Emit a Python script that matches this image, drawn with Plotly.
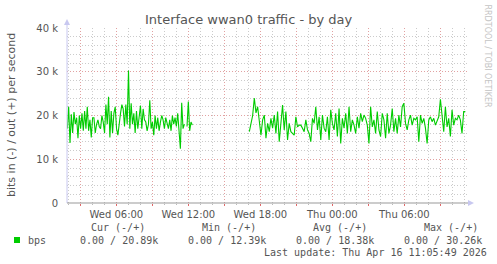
import pandas as pd
import plotly.graph_objects as go

# ---------------- data (bits per second, in k) ----------------
seg1_start, seg1_end = "2026-04-15 01:55", "2026-04-15 12:20"
seg1_k = [
    17.0, 22.0, 13.7, 20.3, 16.0, 20.8, 18.0, 19.5, 14.8, 20.0,
    17.0, 20.5, 16.5, 21.0, 17.0, 22.0, 16.5, 19.0, 15.0, 19.5,
    19.5, 16.0, 18.0, 19.0, 17.5, 17.0, 20.0, 18.5, 16.0, 22.5,
    18.0, 24.3, 15.0, 21.0, 16.0, 20.5, 22.0, 17.0, 15.5, 19.0,
    20.5, 22.5, 21.5, 17.5, 22.5, 18.0, 30.26, 17.0, 22.8, 18.0,
    20.5, 16.0, 21.0, 17.0, 20.0, 22.3, 17.0, 21.5, 19.0, 18.5,
    16.5, 18.0, 23.5, 17.0, 18.5, 15.5, 20.0, 17.0, 19.5, 16.5,
    18.5, 20.0, 19.0, 17.0, 19.5, 18.0, 17.0, 19.0, 16.5, 20.0,
    18.0, 19.5, 17.5, 20.5, 16.0, 12.39, 22.9, 17.0, 18.0, None,
    17.5, 23.2, 16.5, 18.5, 17.8,
]
seg2_start, seg2_end = "2026-04-15 17:05", "2026-04-16 11:05"
seg2_k = [
    16.3, 17.8, 20.0, 24.0, 20.6, 22.0, 18.2, 15.5, 19.0, 20.1,
    14.8, 18.2, 16.3, 19.35, 17.1, 20.1, 15.9, 20.9, 14.0, 19.0,
    22.4, 16.7, 20.9, 14.4, 18.2, 16.3, 15.9, 15.5, 19.7, 17.4,
    17.8, 17.8, 17.1, 16.3, 19.0, 16.7, 15.9, 14.0, 19.35, 18.2,
    22.0, 16.7, 19.7, 14.4, 20.1, 17.1, 16.3, 19.7, 14.4, 21.3,
    18.2, 16.7, 20.5, 15.2, 21.6, 13.6, 19.35, 17.1, 20.5, 15.9,
    22.0, 16.3, 19.0, 17.8, 15.9, 19.7, 17.1, 20.5, 18.6, 20.1,
    19.35, 17.8, 13.6, 22.0, 17.4, 19.0, 15.9, 20.9, 16.7, 15.2,
    20.5, 19.0, 14.8, 20.5, 15.9, 17.8, 21.6, 16.3, 19.35, 15.9,
    20.1, 17.4, 22.0, 22.8, 18.2, 16.7, 19.0, 20.1, 17.8, 19.35,
    19.0, 19.7, 14.0, 20.1, 18.2, 19.35, 17.1, 13.6, 19.0, 19.7,
    18.6, 19.35, 17.8, 18.6, 19.7, 23.7, 19.0, 16.3, 22.0, 17.4,
    19.35, 15.2, 21.3, 17.8, 19.35, 19.0, 20.1, 19.0, 15.9, 20.9,
    20.89,
]

x_range = ["2026-04-15 01:53:20", "2026-04-16 11:13:20"]
grid_ticks = ["2026-04-15 03:00", "2026-04-15 06:00", "2026-04-15 09:00",
              "2026-04-15 12:00", "2026-04-15 15:00", "2026-04-15 18:00",
              "2026-04-15 21:00", "2026-04-16 00:00", "2026-04-16 03:00",
              "2026-04-16 06:00", "2026-04-16 09:00"]
grid_labels = ["", "Wed 06:00", "", "Wed 12:00", "", "Wed 18:00",
               "", "Thu 00:00", "", "Thu 06:00", ""]
y_ticks = [0, 10000, 20000, 30000, 40000]
y_labels = ["0", "10 k", "20 k", "30 k", "40 k"]

title = "Interface wwan0 traffic - by day"
y_title = "bits in (-) / out (+) per second"
series_name = "bps"
stat_headers = ["Cur (-/+)", "Min (-/+)", "Avg (-/+)", "Max (-/+)"]
stat_values = ["0.00 / 20.89k", "0.00 / 12.39k", "0.00 / 18.38k", "0.00 / 30.26k"]
last_update = "Last update: Thu Apr 16 11:05:49 2026"
watermark = "RRDTOOL / TOBI OETIKER"

# ---------------- build ----------------
t1 = list(pd.date_range(seg1_start, seg1_end, periods=len(seg1_k)))
t2 = list(pd.date_range(seg2_start, seg2_end, periods=len(seg2_k)))
xs = t1 + [None] + t2
ys = [None if v is None else v * 1000 for v in seg1_k] + [None] + [v * 1000 for v in seg2_k]

W, H = 497, 264
L, R, T, B = 67, 30, 28, 61
PW, PH = W - L - R, H - T - B


def px(x):
    return (x - L) / PW


def py(y):
    return (H - B - y) / PH


GREEN = "#00cc00"
TEXT = "#555555"
MAJOR = "rgba(230,150,150,0.8)"
MINOR = "rgba(190,190,190,0.8)"
DOTS = "1px,2px"

fig = go.Figure()
fig.add_trace(go.Scatter(x=xs, y=ys, mode="lines", connectgaps=False,
                         line=dict(color=GREEN, width=1.1), hoverinfo="skip",
                         showlegend=False))

fig.update_layout(
    width=W, height=H, margin=dict(l=L, r=R, t=T, b=B),
    paper_bgcolor="white", plot_bgcolor="white",
    font=dict(family="DejaVu Sans", size=10, color=TEXT),
    showlegend=False,
    xaxis=dict(type="date", range=x_range, tickmode="array",
               tickvals=grid_ticks, ticktext=grid_labels,
               showgrid=True, gridcolor=MAJOR, griddash=DOTS, gridwidth=1,
               ticks="outside", ticklen=2, tickcolor="rgba(225,90,90,0.9)",
               tickfont=dict(size=10, color=TEXT), zeroline=False,
               showline=False,
               minor=dict(tickmode="linear", tick0="2026-04-15 00:00",
                          dtick=3600000, showgrid=True, gridcolor=MINOR,
                          griddash=DOTS, gridwidth=1, ticks="outside",
                          ticklen=1, tickcolor="#bbbbbb")),
    yaxis=dict(range=[0, 40000], tickmode="array", tickvals=y_ticks,
               ticktext=y_labels, showgrid=True, gridcolor=MAJOR,
               griddash=DOTS, gridwidth=1, zeroline=False, showline=False,
               ticks="", ticklabelstandoff=8,
               tickfont=dict(size=10, color=TEXT),
               minor=dict(tickmode="linear", tick0=0, dtick=2000,
                          showgrid=True, gridcolor=MINOR, griddash=DOTS,
                          gridwidth=1)),
)

shapes = [
    # axes
    dict(type="line", xref="paper", yref="paper", x0=px(67), x1=px(67),
         y0=py(203), y1=py(24), line=dict(color="#c8c8f0", width=1)),
    dict(type="line", xref="paper", yref="paper", x0=px(67), x1=px(468),
         y0=py(203), y1=py(203), line=dict(color="#999999", width=1)),
    dict(type="path", xref="paper", yref="paper",
         path=f"M {px(64)} {py(25)} L {px(70)} {py(25)} L {px(67)} {py(19)} Z",
         fillcolor="#c8c8f0", line=dict(width=0)),
    dict(type="path", xref="paper", yref="paper",
         path=f"M {px(468)} {py(200)} L {px(468)} {py(206)} L {px(474)} {py(203)} Z",
         fillcolor="#c8c8f0", line=dict(width=0)),
    # legend swatch
    dict(type="rect", xref="paper", yref="paper", x0=px(14), x1=px(20),
         y0=py(243), y1=py(237), fillcolor=GREEN, line=dict(width=0)),
]
fig.update_layout(shapes=shapes)

MONO = dict(family="DejaVu Sans Mono", size=10, color=TEXT)
ann = [
    dict(text=title, x=(248.5 - L) / PW, y=py(19), xanchor="center",
         yanchor="middle", font=dict(family="DejaVu Sans", size=13, color=TEXT)),
    dict(text=y_title, x=px(11), y=py(115), xanchor="center", yanchor="middle",
         textangle=-90, font=dict(family="DejaVu Sans", size=11, color=TEXT)),
    dict(text=watermark, x=px(487.5), y=py(56), xanchor="center",
         yanchor="middle", textangle=90,
         font=dict(family="DejaVu Sans", size=8, color="#c4c4c4")),
    dict(text=series_name, x=px(26), y=py(240), xanchor="left",
         yanchor="middle", font=MONO),
    dict(text=last_update, x=px(262), y=py(252.5), xanchor="left",
         yanchor="middle", font=MONO),
]
header_x = [89, 200, 311, 422]
value_x = [78, 186, 294, 402]
for hx, h in zip(header_x, stat_headers):
    ann.append(dict(text=h, x=px(hx), y=py(227.5), xanchor="left",
                    yanchor="middle", font=MONO))
for vx, v in zip(value_x, stat_values):
    ann.append(dict(text=v, x=px(vx), y=py(240), xanchor="left",
                    yanchor="middle", font=MONO))
for a in ann:
    a.update(xref="paper", yref="paper", showarrow=False)
fig.update_layout(annotations=ann)

fig.write_html("out.html")
